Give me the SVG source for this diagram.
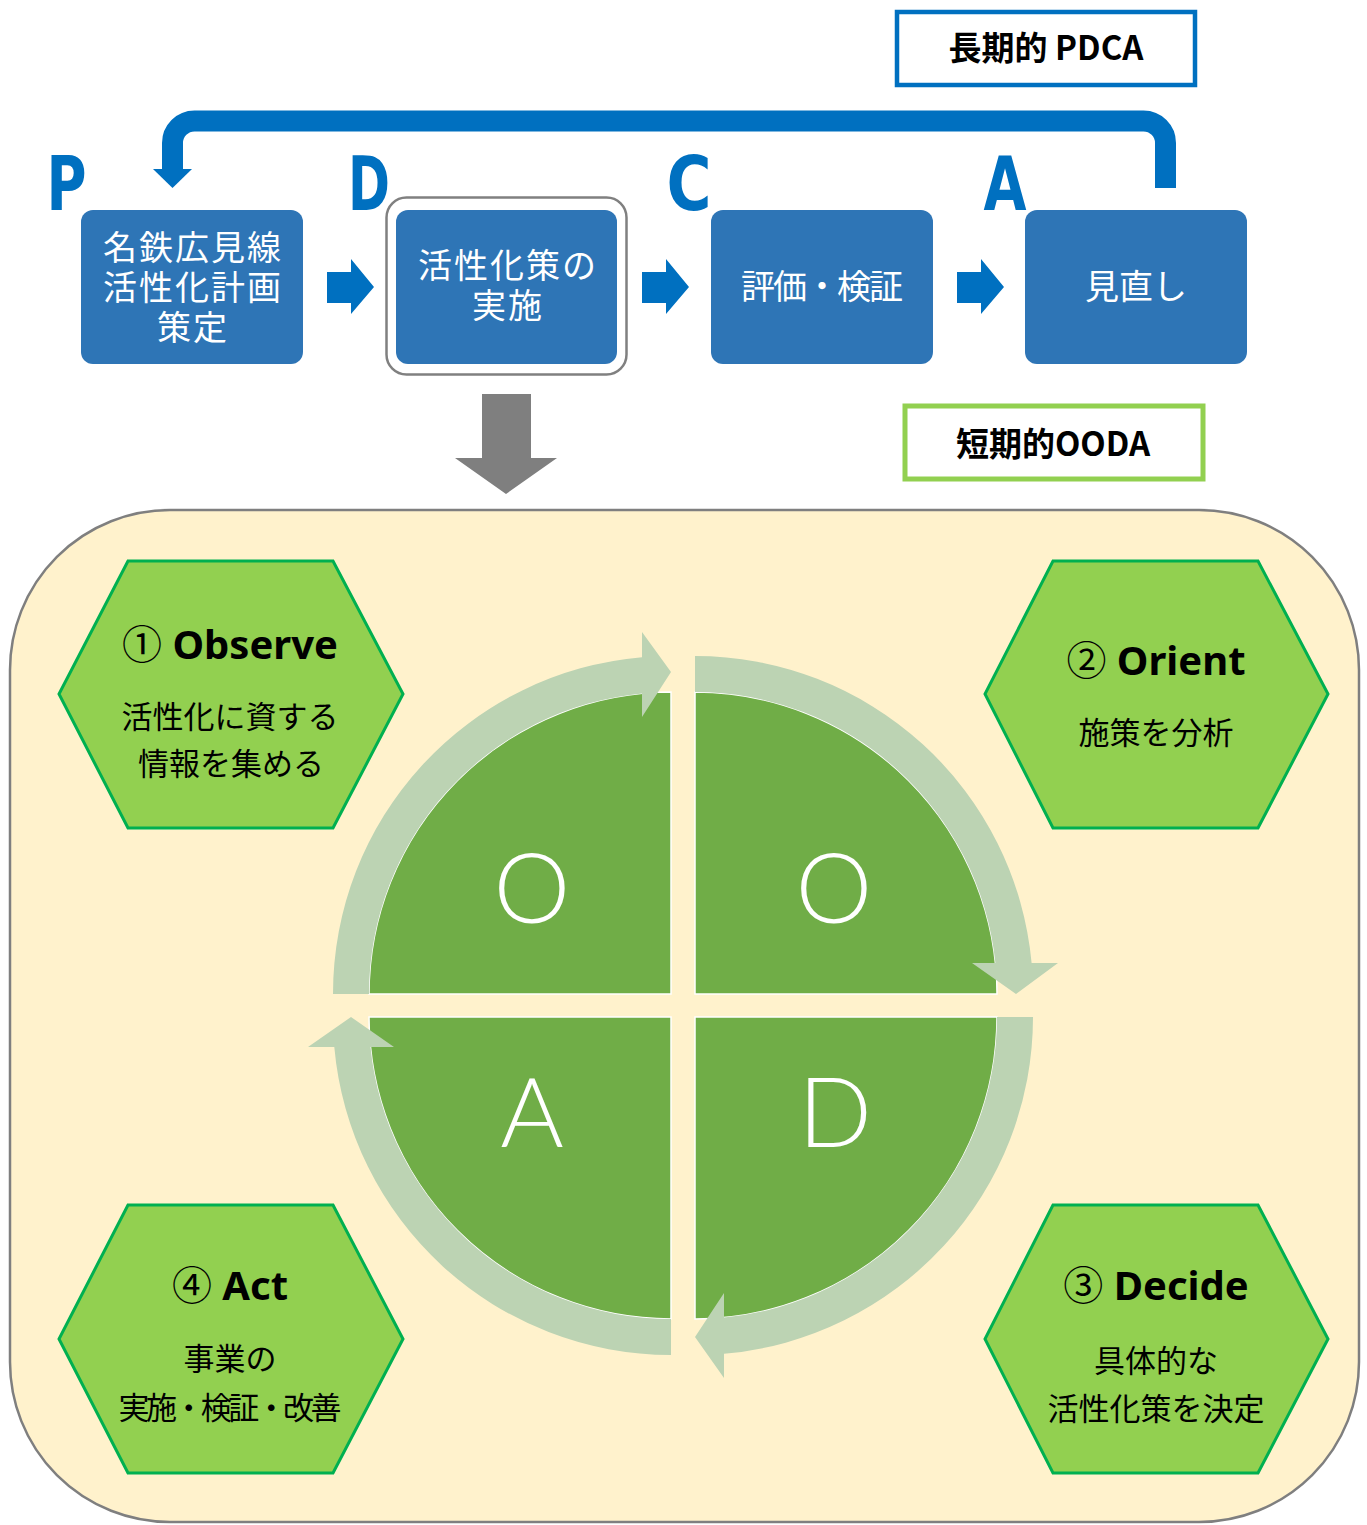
<svg xmlns="http://www.w3.org/2000/svg" width="1367" height="1525" viewBox="0 0 1367 1525">
<defs>
<style>
.box{fill:#2e75b6}
.bt{font-family:"Noto Sans CJK JP","Noto Sans",sans-serif;font-size:34px;fill:#fff;text-anchor:middle}
.pl{font-family:"DejaVu Sans Condensed","DejaVu Sans",sans-serif;font-weight:bold;font-stretch:condensed;font-size:74px;fill:#0070c0;text-anchor:middle}
.barrow{fill:#0070c0}
.lbl{font-family:"Noto Sans CJK JP","Noto Sans",sans-serif;font-weight:bold;font-size:33px;fill:#000;text-anchor:middle}
.hex{fill:#92d050;stroke:#00b050;stroke-width:3}
.ht{font-family:"Noto Sans","Noto Sans CJK JP",sans-serif;font-weight:bold;font-size:40px;fill:#000;text-anchor:middle}
.cd{font-family:"Noto Sans CJK JP",sans-serif;font-weight:normal;font-size:40px}
.hs{font-family:"Noto Sans CJK JP","Noto Sans",sans-serif;font-size:31px;fill:#000;text-anchor:middle}
.q{fill:#70ad47;stroke:#fff;stroke-width:1.5}
.ring{fill:#bcd3b3}
.ql{font-family:Lato,"Open Sans",sans-serif;font-weight:300;font-size:97px;fill:#fff;text-anchor:middle}
</style>
</defs>
<rect width="1367" height="1525" fill="#fff"/>

<!-- PDCA letters -->
<g id="letters">
<text class="pl" x="66.5" y="210" textLength="40" lengthAdjust="spacingAndGlyphs">P</text>
<text class="pl" x="369" y="210" textLength="42" lengthAdjust="spacingAndGlyphs">D</text>
<text class="pl" x="689" y="210" textLength="45" lengthAdjust="spacingAndGlyphs">C</text>
<text class="pl" x="1005" y="210" textLength="43" lengthAdjust="spacingAndGlyphs">A</text>
</g>

<g id="label-pdca">
<rect x="897" y="12" width="298" height="73" fill="#fff" stroke="#0070c0" stroke-width="4.5"/>
<text class="lbl" x="1046" y="60">長期的 PDCA</text>
</g>

<g id="label-ooda">
<rect x="905" y="406" width="298" height="73" fill="#fff" stroke="#92d050" stroke-width="5"/>
<text class="lbl" x="1053" y="456">短期的OODA</text>
</g>

<g id="connectors">
<path d="M1165.5,188 V143 A22,22 0 0 0 1143.5,121 H194.5 A22,22 0 0 0 172.5,143 V170" fill="none" stroke="#0070c0" stroke-width="21"/>
<polygon points="153,169 192,169 172.5,188" fill="#0070c0"/>
<path class="barrow" d="M327,272 H351 V259 L374,287 L351,314 V303 H327 Z"/>
<path class="barrow" d="M642,272 H666 V259 L689,287 L666,314 V303 H642 Z"/>
<path class="barrow" d="M957,272 H981 V259 L1004,287 L981,314 V303 H957 Z"/>
<path d="M482,394 H531 V458 H557 L506,494 L455,458 H482 Z" fill="#7f7f7f"/>
</g>

<g id="node-plan">
<rect class="box" x="81" y="210" width="222" height="154" rx="12"/>
<text class="bt" x="193" y="260" letter-spacing="2">名鉄広見線</text>
<text class="bt" x="193" y="300" letter-spacing="2">活性化計画</text>
<text class="bt" x="193" y="340" letter-spacing="2">策定</text>
</g>

<g id="node-do">
<rect x="386.5" y="197.5" width="240" height="177" rx="20" fill="#fff" stroke="#808080" stroke-width="2.5"/>
<rect class="box" x="396" y="210" width="221" height="154" rx="12"/>
<text class="bt" x="508" y="278" letter-spacing="2">活性化策の</text>
<text class="bt" x="508" y="318" letter-spacing="2">実施</text>
</g>

<g id="node-check">
<rect class="box" x="711" y="210" width="222" height="154" rx="12"/>
<text class="bt" x="822" y="299" textLength="162" lengthAdjust="spacing">評価・検証</text>
</g>

<g id="node-act">
<rect class="box" x="1025" y="210" width="222" height="154" rx="12"/>
<text class="bt" x="1136" y="299">見直し</text>
</g>

<g id="ooda-frame">
<rect x="10" y="510" width="1349" height="1012" rx="160" fill="#fff2cc" stroke="#7f7f7f" stroke-width="2.5"/>
</g>

<g id="ooda-cycle">
<path class="q" d="M671,994 H369 A302,302 0 0 1 671,692 Z"/>
<path class="q" d="M695,994 V692 A302,302 0 0 1 997,994 Z"/>
<path class="q" d="M695,1017 H997 A302,302 0 0 1 695,1319 Z"/>
<path class="q" d="M671,1017 V1319 A302,302 0 0 1 369,1017 Z"/>
<path class="ring" d="M333,994 A338,338 0 0 1 642,657.2 L642,632 L671,672 L642,717 L642,693.4 A302,302 0 0 0 369,994 Z"/>
<path class="ring" d="M695,656 A338,338 0 0 1 1031.6,963 L1058,963 L1016,994 L972,963 L995.4,963 A302,302 0 0 0 695,692 Z"/>
<path class="ring" d="M1033,1017 A338,338 0 0 1 724,1353.8 L724,1378 L695,1337 L724,1293 L724,1317.6 A302,302 0 0 0 997,1017 Z"/>
<path class="ring" d="M671,1355 A338,338 0 0 1 334.3,1047 L308,1047 L351,1017 L394,1047 L370.5,1047 A302,302 0 0 0 671,1319 Z"/>
<text class="ql" x="532" y="923">O</text>
<text class="ql" x="834" y="923">O</text>
<text class="ql" x="532" y="1147">A</text>
<text class="ql" x="835" y="1147">D</text>
</g>

<g id="node-observe">
<polygon class="hex" points="128,561 333,561 403,694 333,828 128,828 59,694"/>
<text class="ht" x="230" y="659"><tspan class="cd">①</tspan> Observe</text>
<text class="hs" x="230" y="728">活性化に資する</text>
<text class="hs" x="231" y="775">情報を集める</text>
</g>

<g id="node-orient">
<polygon class="hex" points="1053,561 1258,561 1328,694 1258,828 1053,828 985,694"/>
<text class="ht" x="1156" y="675"><tspan class="cd">②</tspan> Orient</text>
<text class="hs" x="1156" y="744">施策を分析</text>
</g>

<g id="node-decide">
<polygon class="hex" points="1053,1205 1258,1205 1328,1339 1258,1473 1053,1473 985,1339"/>
<text class="ht" x="1156" y="1300"><tspan class="cd">③</tspan> Decide</text>
<text class="hs" x="1156" y="1372">具体的な</text>
<text class="hs" x="1156" y="1420">活性化策を決定</text>
</g>

<g id="node-act-hex">
<polygon class="hex" points="128,1205 333,1205 403,1339 333,1473 128,1473 59,1339"/>
<text class="ht" x="230" y="1300"><tspan class="cd">④</tspan> Act</text>
<text class="hs" x="230" y="1370">事業の</text>
<text class="hs" x="230" y="1419" textLength="223" lengthAdjust="spacing">実施・検証・改善</text>
</g>
</svg>
